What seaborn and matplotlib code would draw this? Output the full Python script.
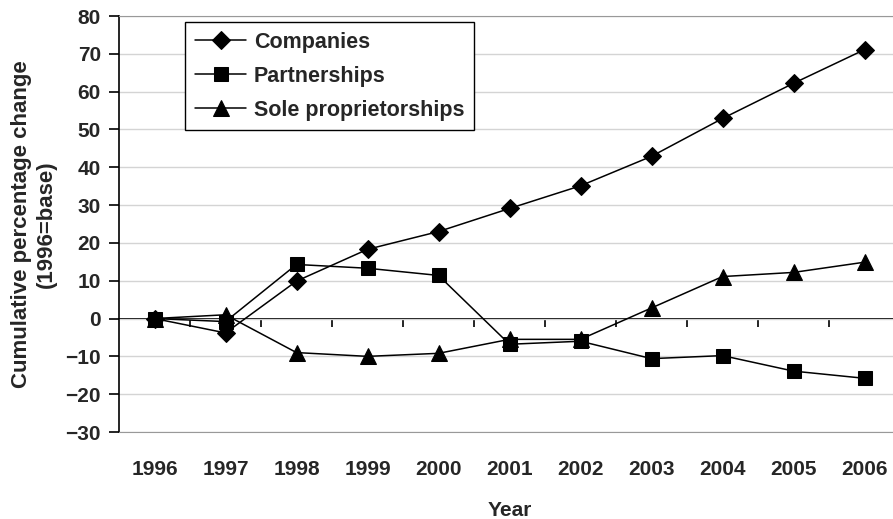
import matplotlib
matplotlib.use("Agg")
import pandas as pd
import seaborn as sns
import matplotlib.pyplot as plt

# Dados
anos = [1996, 1997, 1998, 1999, 2000, 2001, 2002, 2003, 2004, 2005, 2006]
companies = [0, -3.8, 9.9, 18.3, 23.0, 29.1, 35.1, 42.9, 52.9, 62.2, 71.1]
partnerships = [0, -0.8, 14.3, 13.3, 11.4, -6.8, -6.0, -10.6, -9.8, -13.9, -15.8]
sole = [0, 1.0, -9.0, -10.0, -9.2, -5.5, -5.5, 2.8, 11.1, 12.2, 14.9]

series = ["Companies", "Partnerships", "Sole proprietorships"]
marcadores = ["D", "s", "^"]
tamanhos = [9, 10, 11]

dt = pd.DataFrame({"ano": anos * 3,
                   "valor": companies + partnerships + sole,
                   "serie": [s for s in series for _ in anos]})

sns.set_style("white")
plt.rcParams['font.family'] = ['Liberation Sans', 'DejaVu Sans']
plt.rcParams['font.weight'] = 'bold'
fs = 15

fig = plt.figure(figsize=(8.93, 5.19), dpi=100)
ax = fig.add_axes([119/893, 87/519, 781/893, 416/519])

for nome, m, ms in zip(series, marcadores, tamanhos):
    d = dt[dt.serie == nome]
    sns.lineplot(data=d, x="ano", y="valor", ax=ax, color="black", lw=1.1,
                 marker=m, markersize=ms, markeredgecolor="black", label=nome)

ax.set_xlim(1995.5, 2006.5)
ax.set_ylim(-30, 80)
ax.set_yticks(range(-30, 81, 10))
ax.set_yticklabels([f"\u2212{abs(v)}" if v < 0 else str(v) for v in range(-30, 81, 10)],
                   fontsize=fs, fontweight='bold')
ax.set_xticks(anos)
ax.set_xticklabels([str(a) for a in anos], fontsize=fs, fontweight='bold')
ax.tick_params(axis='x', length=0, pad=20)
ax.tick_params(axis='y', length=7, width=1.2, direction='out', left=True, color='black', pad=6)

# Grade
ax.grid(True, axis='y', color='#d4d4d4', lw=1.0)
ax.grid(False, axis='x')
ax.spines['right'].set_visible(False)
ax.spines['top'].set_color('#999999')
ax.spines['bottom'].set_color('#999999')
ax.spines['left'].set_color('black')
ax.spines['left'].set_linewidth(1.2)

# Eixo em zero com marcas entre categorias
sec = ax.secondary_xaxis(30/110)
sec.set_xticks([a + 0.5 for a in anos[:-1]])
sec.set_xticklabels([])
sec.tick_params(axis='x', which='major', length=6, width=1.2, direction='out', color='black')
sec.spines['bottom'].set_color('black')
sec.spines['bottom'].set_linewidth(1.4)

ax.set_xlabel("Year", fontsize=fs, fontweight='bold', labelpad=16)
ax.set_ylabel("Cumulative percentage change\n(1996=base)", fontsize=16,
              fontweight='bold', labelpad=6, linespacing=1.25)

leg = ax.legend(loc='upper left', bbox_to_anchor=(185/893, 1-22/519),
                bbox_transform=fig.transFigure, fancybox=False, framealpha=1,
                edgecolor='black', fontsize=15.5, handlelength=2.4,
                labelspacing=0.6, borderpad=0.45, handletextpad=0.35,
                borderaxespad=0)
leg.get_frame().set_linewidth(1.0)
for t in leg.get_texts():
    t.set_fontweight('bold')

plt.savefig('out.png', dpi=100)
